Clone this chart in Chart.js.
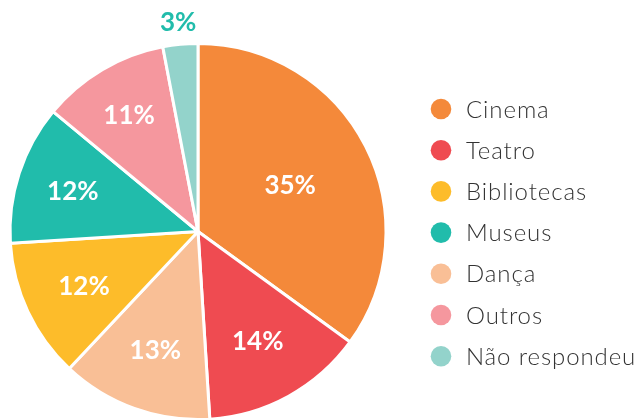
<!DOCTYPE html>
<html>
<head>
<meta charset="utf-8">
<script src="https://cdn.jsdelivr.net/npm/chart.js@4"></script>
<style>
  html, body { margin: 0; padding: 0; background: #fff; overflow: hidden; }
  #wrap { width: 639px; height: 421px; }
</style>
</head>
<body>
<div id="wrap"><canvas id="pie-chart"></canvas></div>
<script>
// slices in the order they go round the pie, clockwise from 12 o'clock
const categories = ['Cinema', 'Teatro', 'Dança', 'Bibliotecas', 'Museus', 'Outros', 'Não respondeu'];
const shares = [35, 14, 13, 12, 12, 11, 3];
const sliceColors = ['#F4893A', '#EF4B51', '#F9BF96', '#FDBC2A', '#21BCAB', '#F5979E', '#93D3CB'];
// order of the legend on the right
const legendOrder = ['Cinema', 'Teatro', 'Bibliotecas', 'Museus', 'Dança', 'Outros', 'Não respondeu'];

// --percent labels on the slices-- //
const sliceLabels = {
  id: 'sliceLabels',
  afterDatasetsDraw(chart, args, opts) {
    const ctx = chart.ctx;
    const arcs = chart.getDatasetMeta(0).data;
    ctx.save();
    ctx.font = '700 26px Lato';
    ctx.textAlign = 'center';
    ctx.textBaseline = 'middle';
    arcs.forEach((arc, i) => {
      const mid = (arc.startAngle + arc.endAngle) / 2;
      const f = opts.radius[i];
      const x = arc.x + Math.cos(mid) * arc.outerRadius * f;
      const y = arc.y + Math.sin(mid) * arc.outerRadius * f;
      ctx.fillStyle = f > 1 ? '#21BCAB' : '#fff';
      ctx.fillText(shares[i] + '%', x, y + 1);
    });
    ctx.restore();
  }
};

// --legend drawn on the right-- //
const sideLegend = {
  id: 'sideLegend',
  afterDraw(chart) {
    const ctx = chart.ctx;
    ctx.save();
    ctx.font = '300 24px Lato';
    ctx.letterSpacing = '0.9px';
    ctx.textBaseline = 'alphabetic';
    legendOrder.forEach((name, i) => {
      const y = 109 + i * 41.2;
      ctx.fillStyle = sliceColors[categories.indexOf(name)];
      ctx.beginPath();
      ctx.arc(441, y, 10.3, 0, Math.PI * 2);
      ctx.fill();
      ctx.fillStyle = '#333333';
      ctx.fillText(name, 466, y + 8.5);
    });
    ctx.restore();
  }
};

const pieChart = new Chart(document.getElementById('pie-chart'), {
  type: 'pie',
  data: {
    labels: categories,
    datasets: [{
      data: shares,
      backgroundColor: sliceColors,
      borderColor: '#fff',
      borderWidth: 3
    }]
  },
  options: {
    responsive: true,
    maintainAspectRatio: false,
    animation: { duration: 0 },
    layout: {
      padding: { left: 8.5, right: 251.5, top: 42, bottom: 0 }
    },
    plugins: {
      legend: { display: false },
      tooltip: { enabled: false },
      sliceLabels: { radius: [0.55, 0.66, 0.67, 0.67, 0.70, 0.72, 1.12] }
    }
  },
  plugins: [sliceLabels, sideLegend]
});
</script>
</body>
</html>
